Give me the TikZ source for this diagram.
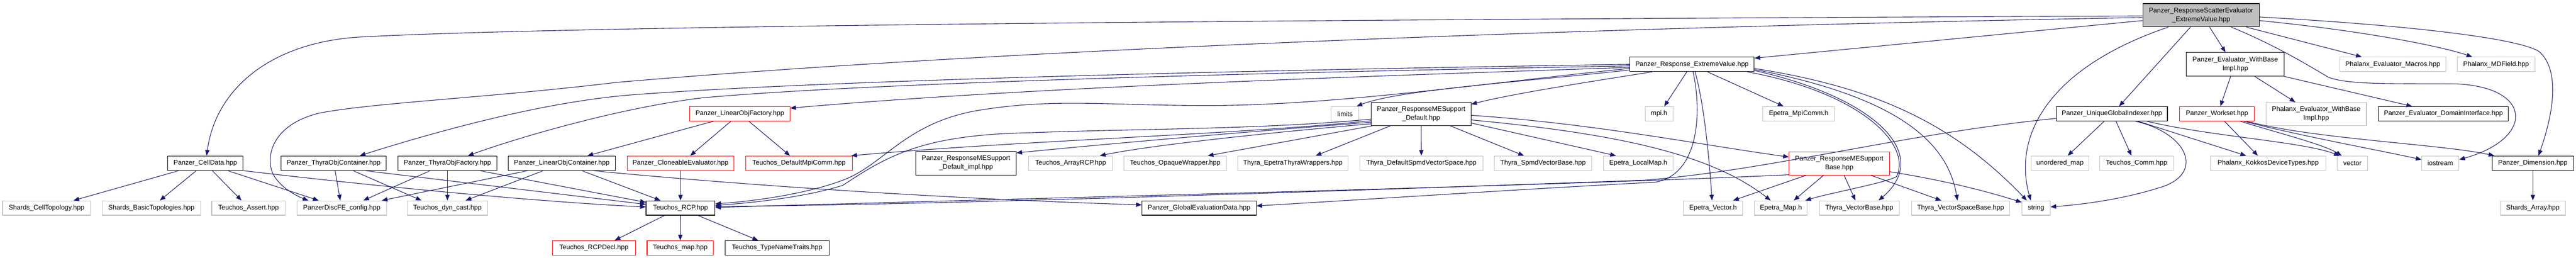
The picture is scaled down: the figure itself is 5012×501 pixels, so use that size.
\documentclass[tikz,border=0pt]{standalone}
\usepackage{fontspec}
\setmainfont{Liberation Sans}
\usetikzlibrary{arrows.meta,calc}
\definecolor{edgec}{HTML}{191970}
\definecolor{grayb}{HTML}{BFBFBF}
\definecolor{rootf}{HTML}{BFBFBF}
\tikzset{
  nb/.style={draw, fill=white, inner sep=0pt, minimum height=28pt, align=center,
    font=\fontsize{13}{17}\selectfont, line width=1.1pt},
  blk/.style={nb, draw=black},
  gry/.style={nb, draw=grayb},
  rd/.style={nb, draw=red},
  rootn/.style={nb, draw=black, fill=rootf},
  edg/.style={draw=edgec, line width=1.1pt, -{Triangle[length=11pt,width=8.5pt]}}
}
\begin{document}
\begin{tikzpicture}[x=1pt,y=-1pt]
\fill[white] (0,0) rectangle (5012,501);
\useasboundingbox (0,0) rectangle (5012,501);
% rank 0/1
\node[rootn, minimum width=227pt, minimum height=45pt] (R) at (4282.5,29.5) {Panzer\_ResponseScatterEvaluator\\\_ExtremeValue.hpp};
\node[blk, minimum width=242pt] (REV) at (3292,125) {Panzer\_Response\_ExtremeValue.hpp};
\node[blk, minimum width=190pt, minimum height=46pt] (EWB) at (4349,125) {Panzer\_Evaluator\_WithBase\\Impl.hpp};
\node[gry, minimum width=207pt] (PEM) at (4655.5,125) {Phalanx\_Evaluator\_Macros.hpp};
\node[gry, minimum width=151pt] (MDF) at (4856.5,125) {Phalanx\_MDField.hpp};
% rank 2
\node[rd, minimum width=195pt] (LOF) at (1439.5,221) {Panzer\_LinearObjFactory.hpp};
\node[gry, minimum width=54pt] (LIM) at (2617,221) {limits};
\node[blk, minimum width=194pt, minimum height=45pt] (RMSD) at (2765,221.5) {Panzer\_ResponseMESupport\\\_Default.hpp};
\node[gry, minimum width=54pt] (MPI) at (3228,221) {mpi.h};
\node[gry, minimum width=139pt] (EMC) at (3499.5,221) {Epetra\_MpiComm.h};
\node[blk, minimum width=216pt] (UGI) at (4109,221) {Panzer\_UniqueGlobalIndexer.hpp};
\node[rd, minimum width=145pt] (WS) at (4313.5,221) {Panzer\_Workset.hpp};
\node[gry, minimum width=195pt, minimum height=45pt] (PEWB) at (4506.5,221.5) {Phalanx\_Evaluator\_WithBase\\Impl.hpp};
\node[blk, minimum width=253pt] (PEDI) at (4754,221) {Panzer\_Evaluator\_DomainInterface.hpp};
% rank 3
\node[blk, minimum width=147pt] (CD) at (399.5,317) {Panzer\_CellData.hpp};
\node[blk, minimum width=204pt] (TOC) at (649,317) {Panzer\_ThyraObjContainer.hpp};
\node[blk, minimum width=193pt] (TOF) at (870.5,317) {Panzer\_ThyraObjFactory.hpp};
\node[blk, minimum width=208pt] (LOC) at (1093,317) {Panzer\_LinearObjContainer.hpp};
\node[rd, minimum width=208pt] (CE) at (1324,317) {Panzer\_CloneableEvaluator.hpp};
\node[rd, minimum width=207pt] (DMC) at (1554.5,317) {Teuchos\_DefaultMpiComm.hpp};
\node[blk, minimum width=195pt, minimum height=46pt] (RMSDI) at (1879.5,317) {Panzer\_ResponseMESupport\\\_Default\_impl.hpp};
\node[gry, minimum width=164pt] (ARCP) at (2083,317) {Teuchos\_ArrayRCP.hpp};
\node[gry, minimum width=199pt] (OW) at (2286.5,317) {Teuchos\_OpaqueWrapper.hpp};
\node[gry, minimum width=215pt] (ETW) at (2515.5,317) {Thyra\_EpetraThyraWrappers.hpp};
\node[gry, minimum width=239pt] (DSVS) at (2765.5,317) {Thyra\_DefaultSpmdVectorSpace.hpp};
\node[gry, minimum width=190pt] (SVB) at (3002,317) {Thyra\_SpmdVectorBase.hpp};
\node[gry, minimum width=135pt] (ELM) at (3187.5,317) {Epetra\_LocalMap.h};
\node[rd, minimum width=195pt, minimum height=45pt] (RMSB) at (3578.5,317.5) {Panzer\_ResponseMESupport\\Base.hpp};
\node[gry, minimum width=112pt] (UM) at (4008,317) {unordered\_map};
\node[gry, minimum width=144pt] (TC) at (4157,317) {Teuchos\_Comm.hpp};
\node[gry, minimum width=224pt] (PKDT) at (4413,317) {Phalanx\_KokkosDeviceTypes.hpp};
\node[gry, minimum width=59pt] (VEC) at (4577,317) {vector};
\node[gry, minimum width=72.5pt] (IOS) at (4748,317) {iostream};
\node[blk, minimum width=158pt] (DIM) at (4928,317) {Panzer\_Dimension.hpp};
% rank 4
\node[gry, minimum width=171pt] (SCT) at (90.5,404) {Shards\_CellTopology.hpp};
\node[gry, minimum width=191pt] (SBT) at (294.5,404) {Shards\_BasicTopologies.hpp};
\node[gry, minimum width=143pt] (TA) at (483.5,404) {Teuchos\_Assert.hpp};
\node[gry, minimum width=174pt] (PDC) at (665,404) {PanzerDiscFE\_config.hpp};
\node[gry, minimum width=157pt] (TDC) at (870.5,404) {Teuchos\_dyn\_cast.hpp};
\node[blk, minimum width=134pt] (RCP) at (1324,404) {Teuchos\_RCP.hpp};
\node[blk, minimum width=222pt] (GED) at (2333,404) {Panzer\_GlobalEvaluationData.hpp};
\node[gry, minimum width=116pt] (EV) at (3333,404) {Epetra\_Vector.h};
\node[gry, minimum width=102pt] (EM) at (3465,404) {Epetra\_Map.h};
\node[gry, minimum width=155pt] (TVB) at (3617.5,404) {Thyra\_VectorBase.hpp};
\node[gry, minimum width=191pt] (TVSB) at (3814.5,404) {Thyra\_VectorSpaceBase.hpp};
\node[gry, minimum width=55pt] (STR) at (3961.5,404) {string};
\node[gry, minimum width=126.5pt] (SA) at (4928,404) {Shards\_Array.hpp};
% rank 5
\node[rd, minimum width=161pt] (RCPD) at (1155.5,481.5) {Teuchos\_RCPDecl.hpp};
\node[rd, minimum width=129pt] (MAP) at (1323.5,481.5) {Teuchos\_map.hpp};
\node[blk, minimum width=202pt] (TNT) at (1512,481.5) {Teuchos\_TypeNameTraits.hpp};

% ---- root edges
\draw[edg] ($(R.west)+(0,1.5)$) .. controls (2500,38) and (1100,50) .. (700,72) .. controls (530,82) and (420,170) .. ($(CD.north)+(2.5,0)$);
\draw[edg] ($(R.west)+(0,4.5)$) .. controls (3000,55) and (1900,100) .. (1200,160) .. controls (950,190) and (720,200) .. (620,220) .. controls (540,240) and (520,290) .. (527,325) .. controls (532,355) and (570,378) .. ($(PDC.north)+(-65,0)$);
\draw[edg] ($(R.west)+(0,10.5)$) -- ($(REV.east)+(0,-12)$);
\draw[edg] ($(R.south)+(-63.5,0)$) .. controls (3990,130) and (3915,260) .. ($(STR.north)+(-10.5,0)$);
\draw[edg] ($(R.south)+(-20.5,0)$) -- ($(UGI.north)+(14,0)$);
\draw[edg] ($(R.south)+(16.5,0)$) -- ($(EWB.north)+(-19,0)$);
\draw[edg] ($(R.south)+(58.5,0)$) .. controls (4420,85) and (4480,120) .. (4530,150) .. controls (4570,165) and (4650,162) .. (4780,163) .. controls (4930,170) and (4930,270) .. ($(IOS.east)+(0,-7)$);
\draw[edg] ($(R.south)+(87.5,0)$) -- ($(PEM.north)+(-60.5,0)$);
\draw[edg] ($(R.east)+(0,10.5)$) .. controls (4600,60) and (4750,90) .. ($(MDF.north)+(-46.5,0)$);
\draw[edg] ($(R.east)+(0,3.5)$) .. controls (4700,50) and (4900,75) .. (4940,100) .. controls (4975,130) and (4975,200) .. ($(DIM.north)+(11,0)$);
% ---- EWB
\draw[edg] ($(EWB.south)+(-9,0)$) -- ($(WS.north)+(6.5,0)$);
\draw[edg] ($(EWB.south)+(38,0)$) -- ($(PEWB.north)+(-40.5,0)$);
\draw[edg] (EWB.south east) -- ($(PEDI.north)+(-61,0)$);
% ---- Workset
\draw[edg] ($(WS.south)+(14.5,0)$) -- ($(PKDT.north)+(-20,0)$);
\draw[edg] ($(WS.south)+(45.5,0)$) .. controls (4420,255) and (4520,280) .. ($(VEC.north)+(-21,0)$);
\draw[edg] ($(WS.south)+(52,0)$) .. controls (4480,265) and (4620,290) .. ($(IOS.west)+(0,-7)$);
\draw[edg] ($(WS.south)+(58,0)$) .. controls (4500,270) and (4750,280) .. ($(DIM.north)+(-75,0)$);
% ---- UGI
\draw[edg] ($(UGI.south)+(-15,0)$) -- ($(UM.north)+(15,0)$);
\draw[edg] ($(UGI.south)+(8,0)$) -- ($(TC.north)+(-10,0)$);
\draw[edg] ($(UGI.south)+(46,0)$) .. controls (4260,260) and (4290,340) .. (4200,365) .. controls (4120,390) and (4040,398) .. ($(STR.east)+(0,-2)$);
\draw[edg] ($(UGI.south)+(51,0)$) -- ($(PKDT.north)+(-43,0)$);
\draw[edg] ($(UGI.south)+(68,0)$) .. controls (4300,265) and (4480,275) .. ($(VEC.north)+(-25,0)$);
\draw[edg] ($(UGI.west)+(0,9)$) .. controls (3700,260) and (3450,330) .. (3200,350) .. controls (2500,375) and (1800,398) .. ($(RCP.east)+(0,-3)$);
% ---- REV
\draw[edg] ($(REV.south)+(-10,0)$) -- ($(MPI.north)+(10,0)$);
\draw[edg] ($(REV.south)+(30,0)$) -- ($(EMC.north)+(-29.5,0)$);
\draw[edg] ($(REV.south)+(6,0)$) .. controls (3315,200) and (3325,300) .. ($(EV.north)+(-2,0)$);
\draw[edg] ($(REV.south)+(2,0)$) .. controls (3312,220) and (3305,340) .. (3220,354) .. controls (3000,365) and (2700,385) .. ($(GED.east)+(0,-4)$);
\draw[edg] ($(REV.south east)+(-14,0)$) .. controls (3620,180) and (3720,280) .. (3690,343) .. controls (3670,355) and (3560,375) .. ($(EM.north east)+(-4,0)$);
\draw[edg] ($(REV.east)+(0,12)$) .. controls (3650,190) and (3760,300) .. ($(TVB.north)+(37.5,0)$);
\draw[edg] ($(REV.east)+(0,10)$) .. controls (3700,190) and (3790,280) .. ($(TVSB.north)+(-6,0)$);
\draw[edg] ($(REV.east)+(0,8)$) .. controls (3650,170) and (3800,240) .. ($(STR.north)+(-18,0)$);
\draw[edg] ($(REV.south west)+(44,0)$) .. controls (3150,150) and (2950,180) .. ($(RMSD.east)+(0,-19)$);
\draw[edg] ($(REV.west)+(0,11)$) .. controls (2950,160) and (2720,175) .. ($(LIM.north east)+(-5,0)$);
\draw[edg] ($(REV.west)+(0,8)$) .. controls (2900,160) and (2600,205) .. (2350,205) .. controls (2150,205) and (2050,190) .. (1900,215) .. controls (1760,240) and (1720,320) .. (1640,350) .. controls (1560,380) and (1450,392) .. ($(RCP.east)+(0,-8)$);
\draw[edg] ($(REV.west)+(0,6)$) .. controls (2600,150) and (2000,170) .. ($(LOF.east)+(0,-11)$);
\draw[edg] ($(REV.west)+(0,3)$) .. controls (2500,140) and (1700,160) .. (1367,190) .. controls (1200,210) and (1000,270) .. ($(TOF.north)+(40,0)$);
\draw[edg] (REV.west) .. controls (2500,135) and (1600,155) .. (1220,185) .. controls (1050,200) and (850,255) .. ($(TOC.north)+(51,0)$);
% ---- RMSD
\draw[edg] ($(RMSD.east)+(0,2.5)$) .. controls (3100,240) and (3300,280) .. ($(RMSB.west)+(0,-12.5)$);
\draw[edg] ($(RMSD.east)+(0,11.5)$) .. controls (3150,260) and (3330,300) .. ($(EM.north)+(-20,0)$);
\draw[edg] ($(RMSD.east)+(0,17.5)$) -- ($(ELM.north)+(-43.5,0)$);
\draw[edg] ($(RMSD.south)+(57,0)$) -- ($(SVB.north)+(-37,0)$);
\draw[edg] (RMSD) -- (DSVS);
\draw[edg] ($(RMSD.south)+(-60,0)$) -- ($(ETW.north)+(44.5,0)$);
\draw[edg] ($(RMSD.south west)+(2,0)$) -- ($(OW.north)+(63.5,0)$);
\draw[edg] ($(RMSD.west)+(0,19)$) .. controls (2500,255) and (2250,280) .. ($(ARCP.north)+(57,0)$);
\draw[edg] ($(RMSD.west)+(0,16)$) .. controls (2400,258) and (2150,280) .. ($(RMSDI.east)+(0,-20)$);
\draw[edg] ($(RMSD.west)+(0,13)$) .. controls (2400,262) and (2000,272) .. ($(DMC.north east)+(-2,0)$);
\draw[edg] ($(RMSD.west)+(0,10)$) .. controls (2450,252) and (2200,250) .. (2000,258) .. controls (1800,262) and (1730,300) .. (1640,360) .. controls (1560,385) and (1450,395) .. ($(RCP.east)+(0,-5)$);
% ---- RMSB
\draw[edg] ($(RMSB.south)+(-64.5,0)$) -- ($(EV.north)+(39,0)$);
\draw[edg] ($(RMSB.south)+(-30.5,0)$) -- ($(EM.north)+(25,0)$);
\draw[edg] ($(RMSB.south)+(9.5,0)$) -- ($(TVB.north)+(-7.5,0)$);
\draw[edg] ($(RMSB.south)+(61.5,0)$) -- ($(TVSB.north)+(-37.5,0)$);
\draw[edg] ($(RMSB.east)+(0,16)$) .. controls (3780,350) and (3860,370) .. ($(STR.west)+(0,-11)$);
\draw[edg] ($(RMSB.west)+(0,22)$) .. controls (3000,362) and (2000,385) .. ($(RCP.east)+(0,-1)$);
% ---- LOC
\draw[edg] ($(LOC.south)+(-66,0)$) -- ($(PDC.north)+(78,0)$);
\draw[edg] ($(LOC.south)+(-36,0)$) -- ($(TDC.north)+(35.5,0)$);
\draw[edg] ($(LOC.south)+(39,0)$) -- ($(RCP.north)+(-39,0)$);
\draw[edg] ($(LOC.south)+(60,0)$) .. controls (1500,365) and (1900,388) .. ($(GED.west)+(0,-6)$);
% ---- LOF
\draw[edg] ($(LOF.south)+(-51.5,0)$) -- ($(LOC.north)+(50,0)$);
\draw[edg] ($(LOF.south)+(-17.5,0)$) -- ($(CE.north)+(19,0)$);
\draw[edg] ($(LOF.south)+(17.5,0)$) -- ($(DMC.north)+(-17.5,0)$);
\draw[edg] (CE) -- (RCP);
% ---- TOF
\draw[edg] ($(TOF.south)+(-33.5,0)$) -- ($(PDC.north)+(42,0)$);
\draw[edg] (TOF) -- (TDC);
\draw[edg] ($(TOF.south)+(62.5,0)$) -- ($(RCP.west)+(0,-11)$);
% ---- TOC
\draw[edg] ($(TOC.south)+(3,0)$) -- ($(PDC.north)+(-3,0)$);
\draw[edg] ($(TOC.south)+(38,0)$) -- ($(TDC.north)+(-50.5,0)$);
\draw[edg] ($(TOC.south)+(61,0)$) -- ($(RCP.west)+(0,-7)$);
% ---- CD
\draw[edg] ($(CD.south)+(-51.5,0)$) -- ($(SCT.north)+(52.5,0)$);
\draw[edg] ($(CD.south)+(-17.5,0)$) -- ($(SBT.north)+(16.5,0)$);
\draw[edg] ($(CD.south)+(13.5,0)$) -- ($(TA.north)+(-13.5,0)$);
\draw[edg] ($(CD.south)+(43.5,0)$) -- ($(PDC.north)+(-45,0)$);
\draw[edg] (CD.south east) .. controls (800,370) and (1100,395) .. ($(RCP.west)+(0,-2)$);
% ---- RCP
\draw[edg] ($(RCP.south)+(-31,0)$) -- ($(RCPD.north)+(40.5,0)$);
\draw[edg] (RCP) -- (MAP);
\draw[edg] ($(RCP.south)+(34,0)$) -- ($(TNT.north)+(-37,0)$);
\draw[edg] (DIM) -- (SA);
\end{tikzpicture}
\end{document}
